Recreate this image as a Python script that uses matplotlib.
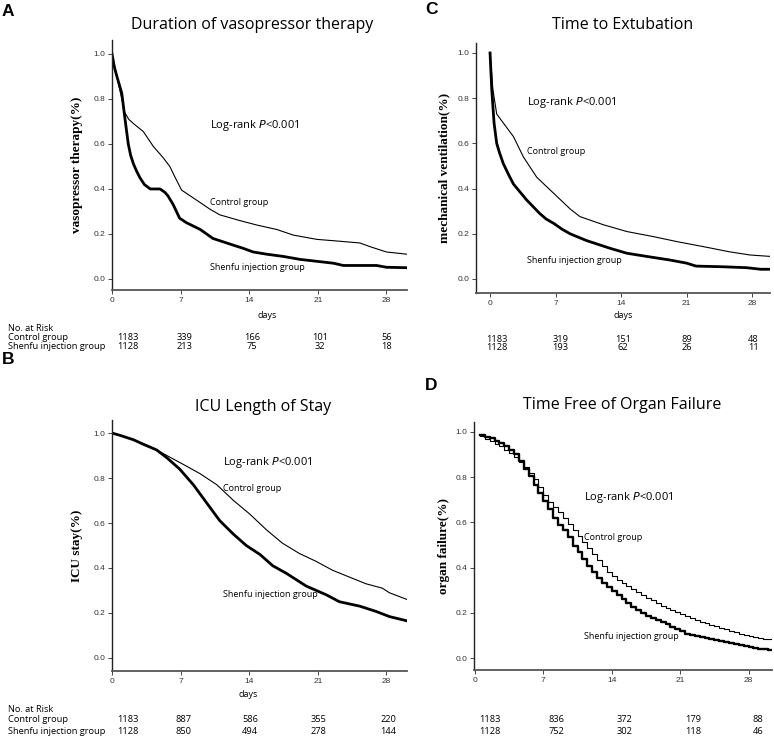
import matplotlib
matplotlib.use("Agg")
import matplotlib.pyplot as plt
import matplotlib.transforms as mtransforms

# ---------------- data ----------------
# Panel A: Duration of vasopressor therapy
a_days_ctrl = [0, 0.25, 0.5, 1.0, 1.3, 1.7, 2.2, 3.2, 4.2, 5.2, 5.9, 6.4, 7.1, 8.3, 10.0, 11.0, 13.0, 14.75, 16.8, 18.5, 20.9, 22.6, 25.3, 26.3, 28.0, 30.1]
a_surv_ctrl = [1.0, 0.95, 0.90, 0.80, 0.74, 0.71, 0.69, 0.655, 0.59, 0.54, 0.50, 0.455, 0.395, 0.36, 0.31, 0.285, 0.26, 0.24, 0.22, 0.195, 0.176, 0.17, 0.16, 0.144, 0.12, 0.11]
a_days_sf = [0, 0.25, 0.5, 1.0, 1.3, 1.66, 1.9, 2.2, 2.5, 2.85, 3.3, 3.9, 4.9, 5.4, 5.7, 6.25, 6.9, 7.6, 9.0, 10.3, 12.4, 13.4, 14.4, 15.8, 17.5, 19.2, 21.2, 22.6, 23.6, 27.0, 28.0, 30.1]
a_surv_sf = [1.0, 0.94, 0.90, 0.825, 0.72, 0.60, 0.55, 0.51, 0.48, 0.45, 0.42, 0.40, 0.40, 0.385, 0.37, 0.33, 0.27, 0.25, 0.22, 0.18, 0.15, 0.136, 0.12, 0.11, 0.10, 0.087, 0.077, 0.07, 0.06, 0.06, 0.052, 0.05]
a_risk_ctrl = ["1183", "339", "166", "101", "56"]
a_risk_sf = ["1128", "213", "75", "32", "18"]

# Panel C: Time to Extubation
c_days_ctrl = [0, 0.3, 0.71, 1.42, 2.5, 3.56, 4.99, 6.77, 8.55, 9.6, 12.1, 14.6, 17.5, 20.0, 22.8, 25.6, 27.8, 29.9]
c_surv_ctrl = [1.0, 0.84, 0.73, 0.69, 0.63, 0.54, 0.45, 0.38, 0.31, 0.276, 0.24, 0.21, 0.187, 0.165, 0.143, 0.12, 0.106, 0.10]
c_days_sf = [0, 0.18, 0.43, 0.71, 1.0, 1.42, 2.0, 2.5, 3.2, 3.9, 4.6, 5.3, 6.0, 6.8, 7.7, 8.55, 10.3, 12.8, 14.6, 16.7, 19.2, 21.0, 22.0, 24.9, 27.4, 28.9, 29.9]
c_surv_sf = [1.0, 0.84, 0.69, 0.60, 0.56, 0.51, 0.46, 0.42, 0.385, 0.35, 0.32, 0.29, 0.265, 0.246, 0.22, 0.20, 0.17, 0.136, 0.114, 0.10, 0.084, 0.07, 0.057, 0.054, 0.05, 0.043, 0.043]
c_risk_ctrl = ["1183", "319", "151", "89", "48"]
c_risk_sf = ["1128", "193", "62", "26", "11"]

# Panel B: ICU Length of Stay
b_days_ctrl = [0, 2.2, 3.9, 5.6, 7.3, 8.96, 10.7, 12.4, 14.05, 15.75, 17.4, 19.1, 20.8, 22.5, 24.2, 25.9, 27.6, 28.3, 30.1]
b_surv_ctrl = [1.0, 0.97, 0.94, 0.90, 0.86, 0.82, 0.77, 0.70, 0.64, 0.57, 0.51, 0.465, 0.43, 0.39, 0.36, 0.33, 0.31, 0.29, 0.26]
b_days_sf = [0, 0.8, 2.2, 3.2, 4.55, 5.6, 6.9, 8.3, 9.65, 11.0, 12.4, 13.7, 15.1, 16.4, 17.8, 19.8, 21.9, 23.2, 25.3, 27.0, 28.3, 30.1]
b_surv_sf = [1.0, 0.99, 0.97, 0.95, 0.925, 0.89, 0.84, 0.77, 0.69, 0.61, 0.55, 0.50, 0.46, 0.41, 0.376, 0.32, 0.28, 0.25, 0.23, 0.206, 0.184, 0.165]
b_risk_ctrl = ["1183", "887", "586", "355", "220"]
b_risk_sf = ["1128", "850", "494", "278", "144"]

# Panel D: Time Free of Organ Failure (step curves, half-day steps)
d_days = [0.5 * i for i in range(1, 62)]
d_surv_sf = [0.985, 0.978, 0.972, 0.962, 0.951, 0.936, 0.92, 0.903, 0.87, 0.835,
             0.803, 0.765, 0.728, 0.693, 0.658, 0.62, 0.59, 0.565, 0.535, 0.497,
             0.468, 0.44, 0.408, 0.38, 0.355, 0.332, 0.313, 0.295, 0.278, 0.26,
             0.242, 0.225, 0.211, 0.197, 0.186, 0.177, 0.169, 0.16, 0.15, 0.139,
             0.128, 0.118, 0.108, 0.102, 0.097, 0.091, 0.087, 0.083, 0.079, 0.075,
             0.072, 0.067, 0.062, 0.056, 0.051, 0.047, 0.044, 0.041, 0.038, 0.036, 0.034]
d_surv_ctrl = [0.98, 0.968, 0.958, 0.947, 0.936, 0.921, 0.905, 0.888, 0.866, 0.845,
               0.818, 0.79, 0.757, 0.723, 0.69, 0.67, 0.648, 0.62, 0.592, 0.566,
               0.54, 0.513, 0.487, 0.46, 0.434, 0.408, 0.382, 0.363, 0.345, 0.332,
               0.319, 0.305, 0.292, 0.278, 0.267, 0.255, 0.243, 0.232, 0.222, 0.212,
               0.203, 0.194, 0.186, 0.177, 0.169, 0.161, 0.153, 0.146, 0.14, 0.133,
               0.127, 0.12, 0.114, 0.108, 0.103, 0.098, 0.094, 0.09, 0.086, 0.082, 0.079]
d_risk_ctrl = ["1183", "836", "372", "179", "88"]
d_risk_sf = ["1128", "752", "302", "118", "46"]

x_ticks = [0, 7, 14, 21, 28]
y_ticks = [0.0, 0.2, 0.4, 0.6, 0.8, 1.0]
group_labels = ["No. at Risk", "Control group", "Shenfu injection group"]

# ---------------- figure ----------------
W, H = 774, 738
fig = plt.figure(figsize=(W / 100, H / 100), dpi=100)
SANS = ["Open Sans", "DejaVu Sans"]
SERIF = ["Liberation Serif", "DejaVu Serif"]
TICKFONT = ["Liberation Sans", "DejaVu Sans"]

def fx(px):
    return px / W

def fy(py):
    return 1 - py / H

def make_ax(l, r, t, b, xlim, ylim):
    ax = fig.add_axes([fx(l), fy(b), fx(r - l), (b - t) / H])
    ax.set_xlim(*xlim)
    ax.set_ylim(*ylim)
    for s in ["top", "right"]:
        ax.spines[s].set_visible(False)
    ax.spines["left"].set_color("#222222")
    ax.spines["bottom"].set_color("#555555")
    ax.spines["left"].set_linewidth(1.0)
    ax.spines["bottom"].set_linewidth(1.3)
    ax.set_xticks(x_ticks)
    ax.set_yticks(y_ticks)
    ax.set_xticklabels([str(t) for t in x_ticks], fontsize=6, family=TICKFONT, color="#333333")
    ax.set_yticklabels(["%.1f" % t for t in y_ticks], fontsize=6, family=TICKFONT, color="#333333")
    ax.tick_params(axis="both", direction="out", length=3, width=0.7, color="#444444", pad=2)
    return ax

def annotate(ax, x, ylr, yc, ys):
    ax.text(x, ylr, "Log-rank $\\mathit{P}$<0.001", fontsize=8, family=SANS, va="center", ha="left")
    ax.text(x, yc, "Control group", fontsize=6.5, family=SANS, va="center", ha="left")
    ax.text(x, ys, "Shenfu injection group", fontsize=6.5, family=SANS, va="center", ha="left")

def risk_table(ax, xs, ys_px, ctrl, sf, with_labels):
    tr = mtransforms.blended_transform_factory(ax.transData, fig.transFigure)
    if with_labels:
        for lab, yp in zip(group_labels, ys_px):
            fig.text(fx(8), fy(yp), lab, fontsize=6.7, family=SANS, va="center", ha="left")
    for x, c, s in zip(xs, ctrl, sf):
        ax.text(x, fy(ys_px[1]), c, transform=tr, fontsize=6.7, family=SANS, va="center", ha="center")
        ax.text(x, fy(ys_px[2]), s, transform=tr, fontsize=6.7, family=SANS, va="center", ha="center")

THICK = 2.0
THIN = 0.8

# ---- A ----
axA = make_ax(112, 407, 40, 290, (0, 30.1), (-0.049, 1.062))
axA.plot(a_days_ctrl, a_surv_ctrl, color="black", lw=THIN)
axA.plot(a_days_sf, a_surv_sf, color="black", lw=THICK)
axA.set_ylabel("vasopressor therapy(%)", family=SERIF, fontweight="bold", fontsize=9.5)
axA.yaxis.set_label_coords(-0.098, 0.5)
axA.text(0.525, -0.1, "days", transform=axA.transAxes, fontsize=6.5, family=SANS, ha="center", va="center")
annotate(axA, 10.0, 0.68, 0.34, 0.053)
risk_table(axA, [1.6, 7.4, 14.3, 21.2, 28.0], [329, 338, 347], a_risk_ctrl, a_risk_sf, True)

# ---- C ----
axC = make_ax(476, 770, 43, 293, (-1.5, 29.9), (-0.062, 1.044))
axC.plot(c_days_ctrl, c_surv_ctrl, color="black", lw=THIN)
axC.plot(c_days_sf, c_surv_sf, color="black", lw=THICK)
axC.set_ylabel("mechanical ventilation(%)", family=SERIF, fontweight="bold", fontsize=9.5)
axC.yaxis.set_label_coords(-0.088, 0.5)
axC.text(0.5, -0.09, "days", transform=axC.transAxes, fontsize=6.5, family=SANS, ha="center", va="center")
annotate(axC, 3.95, 0.78, 0.566, 0.08)
risk_table(axC, [0.75, 7.5, 14.2, 21.0, 28.1], [329, 339, 348], c_risk_ctrl, c_risk_sf, False)

# ---- B ----
axB = make_ax(112, 407, 420, 671, (0, 30.1), (-0.058, 1.058))
axB.plot(b_days_ctrl, b_surv_ctrl, color="black", lw=THIN)
axB.plot(b_days_sf, b_surv_sf, color="black", lw=THICK)
axB.set_ylabel("ICU stay(%)", family=SERIF, fontweight="bold", fontsize=9.5)
axB.yaxis.set_label_coords(-0.098, 0.5)
axB.text(0.46, -0.095, "days", transform=axB.transAxes, fontsize=6.5, family=SANS, ha="center", va="center")
annotate(axB, 11.3, 0.867, 0.755, 0.284)
risk_table(axB, [1.6, 7.3, 14.1, 21.1, 28.2], [710, 720, 731], b_risk_ctrl, b_risk_sf, True)

# ---- D ----
axD = make_ax(474, 772, 422, 670, (-0.1, 30.4), (-0.053, 1.044))
axD.step(d_days, d_surv_ctrl, where="post", color="black", lw=THIN)
axD.step(d_days, d_surv_sf, where="post", color="black", lw=1.7)
axD.set_ylabel("organ failure(%)", family=SERIF, fontweight="bold", fontsize=9.5)
axD.yaxis.set_label_coords(-0.08, 0.5)
annotate(axD, 11.2, 0.708, 0.535, 0.093)
risk_table(axD, [1.5, 8.3, 15.3, 22.3, 29.0], [710, 720, 731], d_risk_ctrl, d_risk_sf, False)

# ---- titles and panel letters ----
fig.text(fx(252), fy(25), "Duration of vasopressor therapy", fontsize=11.5, family=SANS, ha="center", va="center")
fig.text(fx(623), fy(25), "Time to Extubation", fontsize=11.5, family=SANS, ha="center", va="center")
fig.text(fx(263), fy(407), "ICU Length of Stay", fontsize=11.5, family=SANS, ha="center", va="center")
fig.text(fx(622), fy(405), "Time Free of Organ Failure", fontsize=11.5, family=SANS, ha="center", va="center")

LET = ["Liberation Sans", "DejaVu Sans"]
fig.text(fx(2), fy(11), "A", fontsize=12.5, family=LET, fontweight="bold", ha="left", va="center")
fig.text(fx(425), fy(9), "C", fontsize=12.5, family=LET, fontweight="bold", ha="left", va="center")
fig.text(fx(2), fy(359), "B", fontsize=12.5, family=LET, fontweight="bold", ha="left", va="center")
fig.text(fx(425), fy(385), "D", fontsize=12.5, family=LET, fontweight="bold", ha="left", va="center")

fig.savefig("out.png", dpi=100)
